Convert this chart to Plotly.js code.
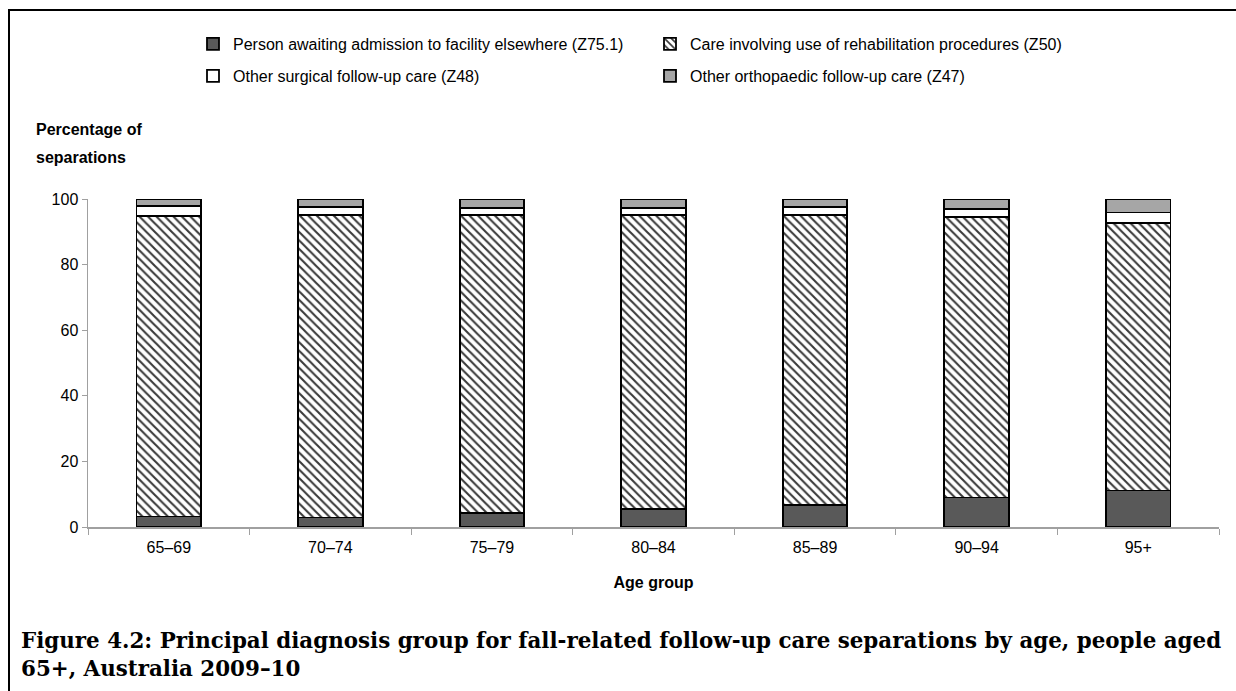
<!DOCTYPE html>
<html>
<head>
<meta charset="utf-8">
<script src="https://cdn.plot.ly/plotly-3.0.1.min.js"></script>
<style>html,body{margin:0;padding:0;background:#fff;}#chart{width:1236px;height:691px;}</style>
</head>
<body>
<div id="chart"></div>
<script>
const ageGroups = ["65–69", "70–74", "75–79", "80–84", "85–89", "90–94", "95+"];
const seriesNames = [
  "Person awaiting admission to facility elsewhere (Z75.1)",
  "Care involving use of rehabilitation procedures (Z50)",
  "Other surgical follow-up care (Z48)",
  "Other orthopaedic follow-up care (Z47)"
];
const z751 = [3.2, 2.9, 4.3, 5.4, 6.7, 9.0, 11.1];
const z50  = [91.7, 92.2, 90.8, 89.7, 88.4, 85.6, 81.6];
const z48  = [2.9, 2.4, 2.1, 2.2, 2.5, 2.3, 3.2];
const z47  = [2.2, 2.5, 2.8, 2.7, 2.4, 3.1, 4.1];
const yTitleLines = ["Percentage of", "separations"];
const xTitle = "Age group";
const caption = "Figure 4.2: Principal diagnosis group for fall-related follow-up care separations by age, people aged<br>65+, Australia 2009–10";

const W = 1236, H = 691;
const M = {l: 88, r: 17, t: 199, b: 164};
const pw = W - M.l - M.r, ph = H - M.t - M.b;
const px = x => (x - M.l) / pw;
const py = y => (H - M.b - y) / ph;

const line = {color: "#000", width: 1.8};
const traces = [
  {name: seriesNames[0], y: z751, legend: "legend", marker: {color: "#595959", line: line}},
  {name: seriesNames[1], y: z50, legend: "legend", marker: {color: "#ffffff", line: line,
     pattern: {shape: "\\", fgcolor: "#3a3a3a", bgcolor: "#ffffff", size: 6, solidity: 0.35}}},
  {name: seriesNames[2], y: z48, legend: "legend2", marker: {color: "#ffffff", line: line}},
  {name: seriesNames[3], y: z47, legend: "legend2", marker: {color: "#a6a6a6", line: line}}
].map(t => Object.assign({type: "bar", x: ageGroups, hoverinfo: "y"}, t));

const font = {family: "Liberation Sans, Arial, sans-serif", size: 16, color: "#000"};
const legendBase = {
  orientation: "h", x: px(193), xanchor: "left", yanchor: "top",
  entrywidth: 412, entrywidthmode: "pixels",
  font: font, traceorder: "normal", bgcolor: "rgba(0,0,0,0)"
};

const layout = {
  width: W, height: H,
  margin: M,
  barmode: "stack",
  bargap: 0.6,
  paper_bgcolor: "#fff", plot_bgcolor: "#fff",
  font: font,
  showlegend: true,
  legend: Object.assign({}, legendBase, {y: py(27)}),
  legend2: Object.assign({}, legendBase, {y: py(59)}),
  xaxis: {
    type: "category", showgrid: false, zeroline: false,
    showline: true, linecolor: "#a0a0a0", linewidth: 1.5,
    ticks: "outside", tickson: "boundaries", ticklen: 6, tickcolor: "#a0a0a0",
    tickfont: font, ticklabelstandoff: 5,
    title: {text: "<b>" + xTitle + "</b>", font: font, standoff: 22}
  },
  yaxis: {
    range: [0, 100], dtick: 20, showgrid: false, zeroline: false,
    showline: true, linecolor: "#a0a0a0", linewidth: 1.5,
    ticks: "outside", ticklen: 5, tickcolor: "#a0a0a0",
    tickfont: font
  },
  annotations: [
    {xref: "paper", yref: "paper", x: px(34), y: py(130), xanchor: "left", yanchor: "middle",
     text: "<b>" + yTitleLines[0] + "</b>", showarrow: false, font: font},
    {xref: "paper", yref: "paper", x: px(34), y: py(157), xanchor: "left", yanchor: "middle",
     text: "<b>" + yTitleLines[1] + "</b>", showarrow: false, font: font},
    {xref: "paper", yref: "paper", x: px(19), y: py(626), xanchor: "left", yanchor: "top", align: "left",
     text: "<b>" + caption + "</b>", showarrow: false,
     font: {family: "DejaVu Serif, Liberation Serif, serif", size: 21.4, color: "#000"}}
  ],
  shapes: [
    {type: "line", xref: "paper", yref: "paper", x0: px(8), x1: px(1236), y0: py(10), y1: py(10),
     line: {color: "#000", width: 2}},
    {type: "line", xref: "paper", yref: "paper", x0: px(9), x1: px(9), y0: py(10), y1: py(691),
     line: {color: "#000", width: 2}}
  ]
};

Plotly.newPlot("chart", traces, layout, {displayModeBar: false, staticPlot: true});
</script>
</body>
</html>
